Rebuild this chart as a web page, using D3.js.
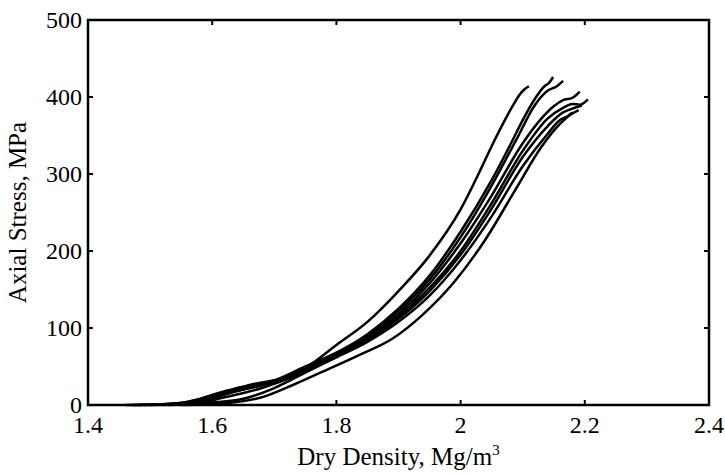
<!DOCTYPE html>
<html>
<head>
<meta charset="utf-8">
<script src="https://cdn.jsdelivr.net/npm/d3@7"></script>
<style>
  body { margin: 0; background: #fff; }
  text { font-family: "Liberation Serif", "Times New Roman", serif; fill: #000; }
</style>
</head>
<body>
<script>
// axes
var xTicks = [1.4, 1.6, 1.8, 2.0, 2.2, 2.4];
var yTicks = [0, 100, 200, 300, 400, 500];
var xLabel = "Dry Density, Mg/m";
var yLabel = "Axial Stress, MPa";

// each test: [dry density, axial stress]
var test1 = [[1.46,0],[1.52,1],[1.56,4],[1.60,12],[1.65,20],[1.70,30],[1.75,48],[1.80,78],[1.85,108],[1.90,148],[1.95,194],[2.00,254],[2.03,302],[2.05,336],[2.07,368],[2.085,390],[2.095,403],[2.103,410],[2.11,414]];
var test2 = [[1.47,0],[1.54,2],[1.58,8],[1.62,18],[1.66,24],[1.70,32],[1.75,50],[1.80,68],[1.85,92],[1.90,125],[1.95,168],[2.00,225],[2.05,292],[2.08,338],[2.10,370],[2.12,398],[2.135,414],[2.142,418],[2.149,426]];
var test3 = [[1.48,0],[1.55,2],[1.60,10],[1.64,22],[1.70,30],[1.75,45],[1.80,66],[1.85,90],[1.90,122],[1.95,163],[2.00,218],[2.05,285],[2.09,345],[2.12,390],[2.14,408],[2.155,414],[2.165,421]];
var test4 = [[1.49,0],[1.56,3],[1.61,14],[1.66,26],[1.72,36],[1.78,60],[1.85,88],[1.90,118],[1.95,158],[2.00,210],[2.05,272],[2.10,340],[2.13,372],[2.15,388],[2.165,396],[2.18,399],[2.192,407]];
var test5 = [[1.50,0],[1.57,2],[1.62,10],[1.68,22],[1.74,40],[1.80,64],[1.85,86],[1.90,115],[1.95,152],[2.00,200],[2.05,262],[2.10,330],[2.14,372],[2.165,386],[2.18,391],[2.192,390],[2.205,397]];
var test6 = [[1.52,0],[1.58,4],[1.63,16],[1.68,26],[1.72,34],[1.78,58],[1.85,84],[1.90,112],[1.95,148],[2.00,195],[2.05,255],[2.10,322],[2.14,362],[2.165,380],[2.18,385],[2.195,389]];
var test7 = [[1.53,0],[1.60,3],[1.65,8],[1.70,22],[1.75,42],[1.80,62],[1.85,82],[1.90,108],[1.95,142],[2.00,188],[2.05,245],[2.10,310],[2.14,352],[2.16,370],[2.172,375],[2.18,380]];
var test8 = [[1.55,0],[1.63,3],[1.68,10],[1.73,26],[1.78,44],[1.84,66],[1.89,86],[1.94,118],[1.99,160],[2.04,215],[2.09,282],[2.13,335],[2.16,365],[2.175,376],[2.19,383]];
var tests = [test1, test2, test3, test4, test5, test6, test7, test8];

var margin = {top: 20, right: 16, bottom: 68, left: 88},
    width = 725 - margin.left - margin.right,
    height = 473 - margin.top - margin.bottom;

var svg = d3.select("body").append("svg")
    .attr("width", 725)
    .attr("height", 473)
    .append("g")
    .attr("transform", "translate(" + margin.left + "," + margin.top + ")");

var x = d3.scaleLinear().domain([1.4, 2.4]).range([0, width]);
var y = d3.scaleLinear().domain([0, 500]).range([height, 0]);

var line = d3.line()
    .x(function(d) { return x(d[0]); })
    .y(function(d) { return y(d[1]); })
    .curve(d3.curveMonotoneX);

svg.selectAll(".test")
    .data(tests).enter()
    .append("path")
    .attr("class", "test")
    .attr("fill", "none")
    .attr("stroke", "black")
    .attr("stroke-width", 2.5)
    .attr("stroke-linejoin", "round")
    .attr("d", line);

// ticks pointing inward on all four sides
var tickLen = 5;
svg.append("g").selectAll("line").data(xTicks).enter().append("line")
    .attr("x1", function(d) { return x(d); }).attr("x2", function(d) { return x(d); })
    .attr("y1", height).attr("y2", height - tickLen)
    .attr("stroke", "black").attr("stroke-width", 2);
svg.append("g").selectAll("line").data(xTicks).enter().append("line")
    .attr("x1", function(d) { return x(d); }).attr("x2", function(d) { return x(d); })
    .attr("y1", 0).attr("y2", tickLen)
    .attr("stroke", "black").attr("stroke-width", 2);
svg.append("g").selectAll("line").data(yTicks).enter().append("line")
    .attr("x1", 0).attr("x2", tickLen)
    .attr("y1", function(d) { return y(d); }).attr("y2", function(d) { return y(d); })
    .attr("stroke", "black").attr("stroke-width", 2);
svg.append("g").selectAll("line").data(yTicks).enter().append("line")
    .attr("x1", width).attr("x2", width - tickLen)
    .attr("y1", function(d) { return y(d); }).attr("y2", function(d) { return y(d); })
    .attr("stroke", "black").attr("stroke-width", 2);

svg.append("rect")
    .attr("x", 0).attr("y", 0)
    .attr("width", width).attr("height", height)
    .attr("fill", "none")
    .attr("stroke", "black")
    .attr("stroke-width", 2.5);

svg.append("g").selectAll("text").data(xTicks).enter().append("text")
    .attr("x", function(d) { return x(d); })
    .attr("y", height + 28)
    .attr("text-anchor", "middle")
    .style("font-size", "24px")
    .text(function(d) { return d3.format(".1f")(d).replace(/^2\.0$/, "2"); });

svg.append("g").selectAll("text").data(yTicks).enter().append("text")
    .attr("x", -6)
    .attr("y", function(d) { return y(d) + 8; })
    .attr("text-anchor", "end")
    .style("font-size", "24px")
    .text(function(d) { return d; });

var xl = svg.append("text")
    .attr("x", width / 2)
    .attr("y", height + 60)
    .attr("text-anchor", "middle")
    .style("font-size", "25px")
    .text(xLabel);
xl.append("tspan")
    .attr("dy", -10)
    .style("font-size", "15px")
    .text("3");

svg.append("text")
    .attr("transform", "translate(" + (-62) + "," + (height / 2) + ") rotate(-90)")
    .attr("text-anchor", "middle")
    .style("font-size", "25px")
    .text(yLabel);
</script>
</body>
</html>
